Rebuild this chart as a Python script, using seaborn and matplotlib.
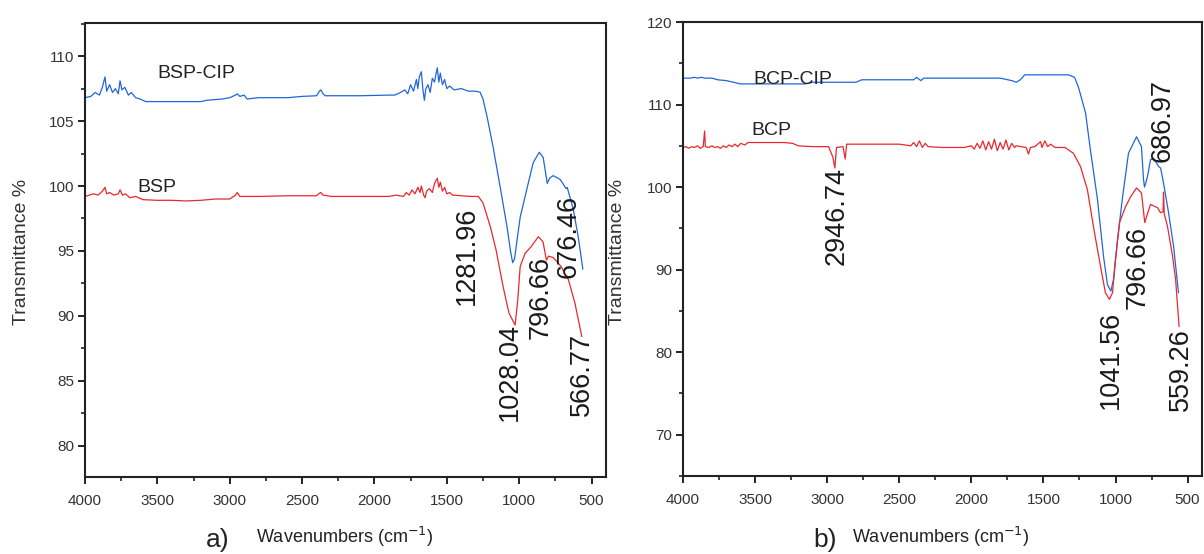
import matplotlib
matplotlib.use("Agg")
import matplotlib.pyplot as plt
from matplotlib.ticker import MultipleLocator
import seaborn as sns
import pandas as pd

# ---- (a) BSP / BSP-CIP spectra: wavenumber (cm-1), transmittance (%) ----
bsp_cip_wn = [4000, 3960, 3930, 3900, 3880, 3862, 3850, 3830, 3810, 3790, 3770, 3758, 3745, 3725,
              3700, 3680, 3650, 3620, 3580, 3530, 3400, 3300, 3200, 3160, 3050, 3000, 2960, 2948,
              2930, 2900, 2880, 2800, 2600, 2500, 2400, 2380, 2370, 2355, 2340, 2200, 2100, 1900,
              1860, 1820, 1790, 1770, 1750, 1730, 1710, 1700, 1690, 1676, 1665, 1655, 1645, 1630,
              1615, 1600, 1585, 1575, 1566, 1555, 1545, 1530, 1515, 1500, 1480, 1450, 1400, 1350,
              1300, 1282, 1269, 1250, 1221, 1180, 1131, 1083, 1060, 1045, 1032, 1015, 993, 944,
              903, 861, 834, 806, 790, 765, 716, 676, 668, 626, 592, 560]
bsp_cip_t = [106.8, 106.9, 107.2, 107.0, 107.6, 108.4, 107.3, 107.8, 107.2, 107.5, 107.1, 108.1, 107.4, 107.6,
             107.0, 107.2, 106.8, 106.7, 106.5, 106.5, 106.5, 106.5, 106.5, 106.6, 106.7, 106.8, 107.0, 107.1,
             106.9, 107.0, 106.7, 106.8, 106.8, 106.9, 106.95, 107.3, 107.4, 107.1, 106.95, 106.95, 106.95, 107.0,
             107.0, 107.2, 107.4, 107.1, 107.8, 107.3, 108.2, 107.5, 108.4, 108.8, 107.4, 106.6, 107.5, 107.8,
             107.2, 108.3, 108.0, 108.6, 109.1, 108.0, 108.7, 107.8, 108.2, 107.5, 107.7, 107.4, 107.5, 107.3,
             107.3, 107.25, 107.2, 106.7, 105.3, 103.0, 99.9, 96.8, 95.0, 94.1, 94.4, 95.8, 97.6, 99.9,
             101.8, 102.6, 102.2, 100.2, 100.6, 100.8, 100.5, 99.8, 99.9, 98.2, 96.1, 93.6]

bsp_wn = [4000, 3970, 3940, 3910, 3880, 3862, 3850, 3830, 3800, 3770, 3758, 3740, 3720, 3690,
          3650, 3600, 3500, 3400, 3300, 3200, 3100, 3000, 2960, 2948, 2930, 2900, 2800, 2600,
          2400, 2380, 2370, 2355, 2300, 2100, 1900, 1850, 1800, 1780, 1760, 1740, 1720, 1700,
          1685, 1676, 1660, 1650, 1640, 1620, 1600, 1585, 1566, 1555, 1545, 1530, 1515, 1500,
          1480, 1460, 1400, 1330, 1282, 1250, 1200, 1160, 1110, 1070, 1028.04, 1010, 993, 960,
          920, 867, 835, 812, 797, 765, 710, 660, 615, 567]
bsp_t = [99.2, 99.3, 99.4, 99.3, 99.6, 99.9, 99.4, 99.5, 99.3, 99.4, 99.7, 99.3, 99.4, 99.1,
         99.2, 98.95, 98.9, 98.9, 98.85, 98.9, 99.0, 99.0, 99.3, 99.5, 99.2, 99.2, 99.2, 99.25,
         99.25, 99.45, 99.5, 99.3, 99.2, 99.2, 99.2, 99.3, 99.2, 99.5, 99.3, 99.7, 99.4, 99.9,
         99.5, 100.0, 99.3, 99.1, 99.6, 99.8, 99.5, 100.2, 100.6, 99.9, 100.3, 99.6, 99.9, 99.4,
         99.5, 99.3, 99.25, 99.2, 99.2, 98.7, 96.9, 95.1, 92.2, 90.2, 89.3, 91.2, 93.8, 94.8,
         95.3, 96.1, 95.7, 94.3, 94.6, 94.5, 93.8, 92.8, 91.0, 88.4]

# ---- (b) BCP / BCP-CIP spectra ----
bcp_cip_wn = [4000, 3950, 3920, 3900, 3870, 3850, 3800, 3760, 3700, 3650, 3600, 3400, 3150, 3100,
              2800, 2760, 2400, 2380, 2350, 2330, 1900, 1800, 1720, 1688, 1660, 1630, 1500, 1400,
              1326, 1284, 1257, 1208, 1174, 1125, 1083, 1056, 1032, 1014, 986, 951, 910, 854,
              820, 806, 799, 790, 778, 757, 736, 701, 687, 667, 632, 597, 563]
bcp_cip_t = [113.2, 113.2, 113.3, 113.2, 113.3, 113.2, 113.2, 113.0, 112.9, 112.7, 112.5, 112.5, 112.5, 112.7,
             112.7, 113.0, 113.0, 113.3, 112.9, 113.2, 113.2, 113.2, 112.9, 112.7, 113.0, 113.6, 113.6, 113.6,
             113.6, 113.3, 112.1, 109.0, 104.5, 98.5, 91.6, 88.2, 87.4, 88.8, 93.6, 98.8, 104.1, 106.1,
             104.9, 101.0, 100.0, 100.5, 101.3, 103.3, 103.5, 102.5, 102.3, 100.5, 96.9, 92.8, 87.2]

bcp_wn = [4000, 3980, 3960, 3940, 3920, 3900, 3880, 3860, 3850, 3845, 3820, 3800, 3780, 3760,
          3740, 3720, 3700, 3680, 3660, 3640, 3620, 3600, 3570, 3550, 3500, 3300, 3240, 3200,
          3100, 2990, 2960, 2946.74, 2935, 2890, 2875, 2865, 2700, 2500, 2420, 2400, 2380, 2360,
          2340, 2320, 2300, 2200, 2050, 2000, 1980, 1960, 1940, 1920, 1900, 1880, 1860, 1840,
          1820, 1800, 1780, 1760, 1740, 1720, 1700, 1690, 1620, 1604, 1590, 1560, 1520, 1510,
          1490, 1470, 1450, 1420, 1350, 1292, 1243, 1195, 1153, 1104, 1070, 1041.56, 1021, 1000,
          972, 931, 896, 854, 820, 797, 785, 757, 708, 688, 670, 667, 662, 639, 604, 583, 559]
bcp_t = [104.8, 104.9, 104.7, 104.9, 104.8, 105.0, 104.7, 104.9, 106.8, 104.9, 104.8, 105.0, 104.8, 104.9,
         104.7, 105.0, 104.8, 105.1, 104.9, 105.2, 104.9, 105.3, 105.1, 105.4, 105.4, 105.4, 105.3, 105.0,
         104.9, 104.9, 103.6, 102.3, 104.8, 104.9, 103.4, 105.2, 105.2, 105.2, 105.0, 105.4, 104.9, 105.6,
         104.8, 105.3, 104.9, 104.8, 104.8, 105.0, 104.6, 105.3, 104.7, 105.6, 104.5, 105.5, 104.6, 105.8,
         104.4, 105.4, 104.6, 105.7, 104.5, 105.3, 104.8, 105.0, 104.8, 104.0, 104.8, 104.9, 105.5, 104.8,
         105.6, 104.9, 105.2, 104.8, 104.8, 104.1, 102.5, 99.7, 95.2, 90.4, 87.2, 86.4, 87.2, 91.2,
         95.7, 97.6, 98.8, 99.9, 99.3, 95.7, 96.4, 97.9, 97.5, 96.9, 97.0, 99.4, 96.8, 95.2, 91.6, 88.8, 83.1]

# peak annotations
peaks_a = [1281.96, 1028.04, 796.66, 676.46, 566.77]
peaks_b = [2946.74, 1041.56, 796.66, 686.97, 559.26]

BLUE = "#2166d9"
RED = "#e8282e"
INK = "#222222"

sns.set_theme(style="ticks")
plt.rcParams["font.family"] = ["Liberation Sans", "DejaVu Sans"]

fig = plt.figure(figsize=(12.04, 5.54), dpi=100)
ax_a = fig.add_axes([85 / 1204, 1 - 477 / 554, 521 / 1204, 454 / 554])
ax_b = fig.add_axes([683 / 1204, 1 - 476 / 554, 519 / 1204, 454 / 554])


def spectrum(ax, wn, t, color):
    df = pd.DataFrame({"wn": wn, "t": t})
    sns.lineplot(data=df, x="wn", y="t", ax=ax, color=color, linewidth=0.9,
                 estimator=None, sort=False)


spectrum(ax_a, bsp_cip_wn, bsp_cip_t, BLUE)
spectrum(ax_a, bsp_wn, bsp_t, RED)
spectrum(ax_b, bcp_cip_wn, bcp_cip_t, BLUE)
spectrum(ax_b, bcp_wn, bcp_t, RED)

ax_a.set_ylim(77.6, 112.55)
ax_a.yaxis.set_major_locator(MultipleLocator(5))
ax_a.yaxis.set_minor_locator(MultipleLocator(2.5))
ax_b.set_ylim(65, 120)
ax_b.yaxis.set_major_locator(MultipleLocator(10))
ax_b.yaxis.set_minor_locator(MultipleLocator(5))

for ax in (ax_a, ax_b):
    ax.set_xlim(4000, 400)
    ax.xaxis.set_major_locator(MultipleLocator(500))
    ax.xaxis.set_minor_locator(MultipleLocator(250))
    ax.set_xlabel("")
    ax.set_ylabel("")
    for s in ax.spines.values():
        s.set_visible(True)
        s.set_color(INK)
        s.set_linewidth(1.5)
    ax.tick_params(which="major", direction="out", length=5, width=1.4, color=INK,
                   labelsize=11, labelcolor="#333333", pad=3)
    ax.tick_params(which="minor", direction="out", length=3, width=1.2, color=INK)
    ax.tick_params(axis="x", which="major", pad=7)

# series names
ax_a.text(3233, 108.7, "BSP-CIP", fontsize=14, ha="center", va="center", color=INK)
ax_a.text(3502, 99.9, "BSP", fontsize=14, ha="center", va="center", color=INK)
ax_b.text(3236, 113.0, "BCP-CIP", fontsize=14, ha="center", va="center", color=INK)
ax_b.text(3389, 106.9, "BCP", fontsize=14, ha="center", va="center", color=INK)

# peak labels: offset (cm-1) from the peak and vertical centre (%)
offs_a = [(77, 94.6), (34, 85.7), (58, 91.4), (-15, 96.1), (-3, 85.5)]
offs_b = [(-9, 96.5), (-7, 79.1), (50, 90.3), (-13, 108.1), (-10, 77.9)]
for ax, peaks, offs in ((ax_a, peaks_a, offs_a), (ax_b, peaks_b, offs_b)):
    for p, (dx, yc) in zip(peaks, offs):
        ax.text(p + dx, yc, f"{p:.2f}", rotation=90, fontsize=19.5, ha="center", va="center",
                color="#1a1a1a")

# axis titles and panel letters
for x in (22 / 1204, 618 / 1204):
    fig.text(x, 1 - 252 / 554, "Transmittance %", rotation=90, fontsize=14, ha="center",
             va="center", color="#333333")
for x in (345 / 1204, 941 / 1204):
    fig.text(x, 1 - 537 / 554, "Wavenumbers (cm$^{-1}$)", fontsize=13,
             ha="center", va="center", color=INK)
fig.text(218 / 1204, 1 - 540 / 554, "a)", fontsize=19, ha="center", va="center", color=INK)
fig.text(825 / 1204, 1 - 540 / 554, "b)", fontsize=19, ha="center", va="center", color=INK)

fig.savefig("out.png", dpi=100)
